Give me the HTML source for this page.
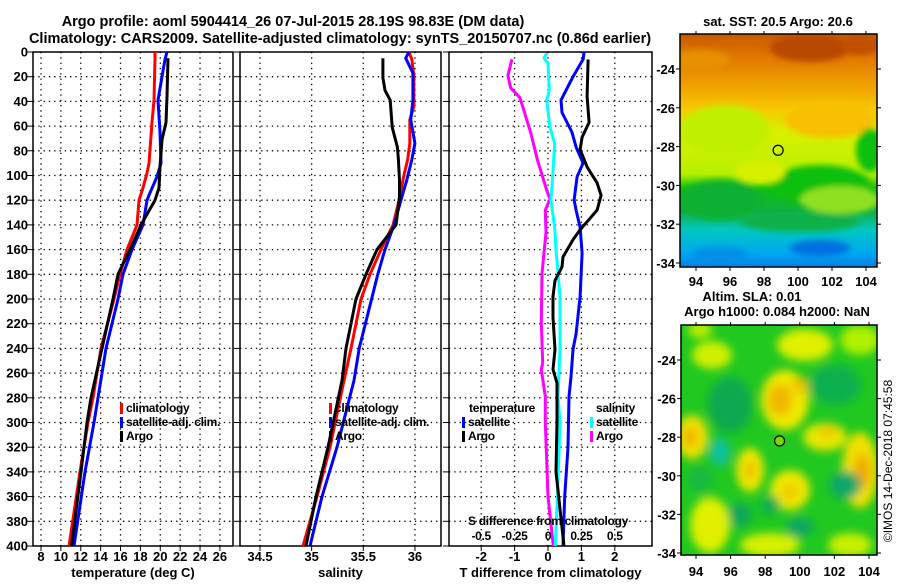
<!DOCTYPE html>
<html><head><meta charset="utf-8">
<style>
body{margin:0;background:#fff;width:900px;height:580px;overflow:hidden}
svg text{font-family:"Liberation Sans",sans-serif;font-weight:bold;font-size:13px;fill:#000}
svg text.leg{font-size:12px;letter-spacing:-0.3px}
</style></head>
<body>
<svg id="chart" width="900" height="580" viewBox="0 0 900 580" xmlns="http://www.w3.org/2000/svg">
<defs>
<filter id="blur5" x="-50%" y="-50%" width="200%" height="200%"><feGaussianBlur stdDeviation="4.5"/></filter>
<filter id="blur3" x="-50%" y="-50%" width="200%" height="200%"><feGaussianBlur stdDeviation="3"/></filter>
<clipPath id="m1clip"><rect x="680" y="34" width="197" height="233"/></clipPath>
<clipPath id="m2clip"><rect x="681" y="325" width="196" height="230"/></clipPath>
<linearGradient id="sstg" x1="0" y1="0" x2="0" y2="1">
<stop offset="0" stop-color="#c85a00"/><stop offset="0.1" stop-color="#e07800"/>
<stop offset="0.22" stop-color="#f0a000"/><stop offset="0.32" stop-color="#f8c800"/>
<stop offset="0.42" stop-color="#d8f000"/><stop offset="0.6" stop-color="#b8f000"/>
<stop offset="0.66" stop-color="#10c010"/><stop offset="0.76" stop-color="#10b040"/>
<stop offset="0.84" stop-color="#00c8c0"/><stop offset="0.94" stop-color="#00a8f0"/>
<stop offset="1" stop-color="#0080e8"/></linearGradient>
</defs>
<text x="293" y="26" text-anchor="middle" style="font-size:14.5px">Argo profile: aoml 5904414_26 07-Jul-2015 28.19S 98.83E (DM data)</text>
<text x="340" y="43" text-anchor="middle" style="font-size:14.5px">Climatology: CARS2009. Satellite-adjusted climatology: synTS_20150707.nc (0.86d earlier)</text>
<g id="panels"></g>
<g id="maps"></g>
<text transform="translate(892,461) rotate(-90)" text-anchor="middle" style="font-weight:normal;font-size:12px">©IMOS 14-Dec-2018 07:45:58</text>
</svg>
<script>
// ---------- data ----------
const depthTicks=[0,20,40,60,80,100,120,140,160,180,200,220,240,260,280,300,320,340,360,380,400];
const tTicks=[8,10,12,14,16,18,20,22,24,26];
const sTicks=[34.5,35,35.5,36];
const dTTicks=[-2,-1,0,1,2];
const dSTickLabels=["-0.5","-0.25","0","0.25","0.5"];
// temperature
const tClimDepth=[0,6,39,57,90,98,110,120,140,160,180,200,240,280,300,340,400];
const tClim=[19.47,19.47,19.37,19.17,18.87,18.66,18.26,17.86,17.66,16.65,15.95,15.34,14.04,13.23,12.73,11.92,10.82];
const tSatDepth=[0,6,20,39,65,90,101,114,120,140,160,180,200,240,280,300,340,400];
const tSat=[20.68,20.47,20.17,19.77,19.97,20.07,19.67,18.97,18.66,18.26,17.15,16.25,15.75,14.54,13.73,13.33,12.43,11.32];
const tArgoDepth=[5,36,57,71,93,110,120,140,160,180,200,240,280,300,340,400];
const tArgo=[20.78,20.68,20.58,20.17,19.97,19.87,19.47,18.06,16.95,15.75,15.24,14.14,13.03,12.63,12.02,11.07];
// salinity
const sClimDepth=[0,6,20,44,55,74,87,101,117,140,160,180,200,240,266,320,360,400];
const sClim=[35.94,35.97,35.99,35.99,35.95,35.95,35.93,35.89,35.855,35.788,35.671,35.565,35.478,35.381,35.313,35.178,35.052,34.916];
const sSatDepth=[0,5,17,39,55,74,87,104,117,140,160,180,200,240,266,320,360,400];
const sSat=[35.94,35.91,35.98,35.98,35.96,36.0,35.97,35.92,35.875,35.797,35.71,35.64,35.58,35.46,35.41,35.245,35.10,34.984];
const sArgoDepth=[5,21,31,39,61,77,87,104,117,140,160,180,200,240,266,320,360,400];
const sArgo=[35.69,35.69,35.71,35.76,35.78,35.83,35.84,35.85,35.85,35.817,35.633,35.526,35.429,35.333,35.294,35.158,35.042,34.945];
// differences
const dTSatDepth=[0,6,20,39,49,65,77,90,101,120,128,142,163,198,228,241,263,279,320,360,400];
const dTSat=[1.08,1.05,0.75,0.39,0.42,0.72,0.84,1.05,0.87,0.78,0.84,0.96,1.02,0.96,0.84,0.75,0.69,0.63,0.6,0.5,0.45];
const dTArgoDepth=[6,36,57,69,79,93,106,116,128,144,152,166,174,185,198,215,241,257,268,300,340,400];
const dTArgo=[1.2,1.17,1.23,1.02,0.96,1.17,1.47,1.59,1.47,0.96,0.75,0.45,0.42,0.21,0.15,0.15,0.21,0.15,0.27,0.27,0.24,0.48];
const dSSatDepth=[1,5,9,31,39,61,74,98,120,142,160,198,241,279,300,360,400];
const dSSat=[-0.01,-0.03,0,0.01,-0.01,0.015,0.05,0.037,0.022,0.05,0.06,0.09,0.09,0.075,0.09,0.07,0.055];
const dSArgoDepth=[6,19,29,37,44,65,87,112,119,128,146,179,219,252,257,279,300,360,400];
const dSArgo=[-0.27,-0.30,-0.28,-0.21,-0.19,-0.13,-0.08,-0.01,0.015,-0.02,-0.015,-0.045,-0.05,-0.04,-0.05,-0.02,-0.02,0,0.04];
// maps
const lonTicks=[94,96,98,100,102,104];
const latTicks=[-24,-26,-28,-30,-32,-34];
const argoLon=98.83, argoLat=-28.19;

// ---------- helpers ----------
const NS="http://www.w3.org/2000/svg";
function mk(tag,attrs,parent){const e=document.createElementNS(NS,tag);for(const k in attrs)e.setAttribute(k,attrs[k]);parent.appendChild(e);return e;}
const Y0=52,Y1=546;
const yD=d=>Y0+(d/400)*(Y1-Y0);
const panels=document.getElementById('panels');

function panel(name,x0,x1,xv,vticks,tickLabels,title){
  const g=mk('g',{},panels);
  
  
  depthTicks.forEach(d=>{
    if(d>0&&d<400){const l=mk('line',{x1:x0,x2:x1,y1:yD(d),y2:yD(d),stroke:'#000','stroke-width':1.3,'stroke-dasharray':'1.3 4'},g);
    }
    const t=mk('line',{x1:x0-6,x2:x0,y1:yD(d),y2:yD(d),stroke:'#000','stroke-width':1},g);
    
  });
  vticks.forEach((v,i)=>{
    const x=xv(v);
    const l=mk('line',{x1:x,x2:x,y1:Y0,y2:Y1,stroke:'#000','stroke-width':1.3,'stroke-dasharray':'1.3 4'},g);
    
    const tk=mk('line',{x1:x,x2:x,y1:Y1,y2:Y1+5,stroke:'#000'},g);
    
    const t=mk('text',{x:x,y:561,'text-anchor':'middle'},g);t.textContent=tickLabels[i];
    
  });
  const r=mk('rect',{x:x0,y:Y0,width:x1-x0,height:Y1-Y0,fill:'none',stroke:'#000','stroke-width':1.5},g);
  
  const tt=mk('text',{x:(x0+x1)/2,y:577,'text-anchor':'middle'},g);tt.textContent=title;
  
  return g;
}
function series(g,name,depths,vals,xv,color){
  const pts=depths.map((d,i)=>xv(vals[i]).toFixed(1)+','+yD(d).toFixed(1)).join(' ');
  const p=mk('polyline',{points:pts,fill:'none',stroke:color,'stroke-width':3,'stroke-linejoin':'round'},g);
  
  
}
function legend(g,x,y,color,label,name){
  const b=mk('rect',{x:x,y:y-9,width:3,height:11,fill:color},g);
  
  const t=mk('text',{x:x+6,y:y,'class':'leg'},g);t.textContent=label;
  
}

// depth labels
depthTicks.forEach(d=>{const t=mk('text',{x:28,y:yD(d)+4.5,'text-anchor':'end'},panels);t.textContent=d;
});

// Panel 1 temperature
const xT=v=>41+(v-8)*9.94;
const p1=panel('temperature-panel',33,233,xT,tTicks,tTicks.map(String),'temperature (deg C)');
series(p1,'temp-climatology-line',tClimDepth,tClim,xT,'#ff0000');
series(p1,'temp-satellite-line',tSatDepth,tSat,xT,'#0000ff');
series(p1,'temp-argo-line',tArgoDepth,tArgo,xT,'#000000');
legend(p1,120,412,'#ff0000','climatology','legend-climatology');
legend(p1,120,426,'#0000ff','satellite-adj. clim.','legend-satellite');
legend(p1,120,440,'#000000','Argo','legend-argo');

// Panel 2 salinity
const xS=v=>260+(v-34.5)*103.3;
const p2=panel('salinity-panel',240,441,xS,sTicks,sTicks.map(String),'salinity');
series(p2,'sal-climatology-line',sClimDepth,sClim,xS,'#ff0000');
series(p2,'sal-satellite-line',sSatDepth,sSat,xS,'#0000ff');
series(p2,'sal-argo-line',sArgoDepth,sArgo,xS,'#000000');
legend(p2,329,412,'#ff0000','climatology','legend-climatology');
legend(p2,329,426,'#0000ff','satellite-adj. clim.','legend-satellite');
legend(p2,329,440,'#000000','Argo','legend-argo');

// Panel 3 differences
const xdT=v=>548+v*33.4;
const xdS=v=>548+v*4*33.4;
const p3=panel('difference-panel',449,652,xdT,dTTicks,dTTicks.map(String),'T difference from climatology');
series(p3,'sal-argo-diff-line',dSArgoDepth,dSArgo,xdS,'#ff00ff');
series(p3,'sal-satellite-diff-line',dSSatDepth,dSSat,xdS,'#00ffff');
series(p3,'temp-satellite-diff-line',dTSatDepth,dTSat,xdT,'#0000ff');
series(p3,'temp-argo-diff-line',dTArgoDepth,dTArgo,xdT,'#000000');
{const t=mk('text',{x:469,y:412,'class':'leg'},p3);t.textContent='temperature';
const s=mk('text',{x:596,y:412,'class':'leg'},p3);s.textContent='salinity';}
legend(p3,462,426,'#0000ff','satellite','legend-temp-satellite');
legend(p3,462,440,'#000000','Argo','legend-temp-argo');
legend(p3,590,426,'#00ffff','satellite','legend-sal-satellite');
legend(p3,590,440,'#ff00ff','Argo','legend-sal-argo');
{const t=mk('text',{x:548,y:525,'text-anchor':'middle','class':'leg'},p3);t.textContent='S difference from climatology';

dTTicks.forEach((v,i)=>{const l=mk('text',{x:xdS(v/4),y:540,'text-anchor':'middle','class':'leg'},p3);l.textContent=dSTickLabels[i];
});}

// ---------- maps ----------
const maps=document.getElementById('maps');
function mapAxes(g,x0,x1,y0,y1,lonX,latY,labelY){
  latTicks.forEach(v=>{const y=latY(v);
    mk('line',{x1:x0-4,x2:x0,y1:y,y2:y,stroke:'#000'},g);mk('line',{x1:x1,x2:x1+4,y1:y,y2:y,stroke:'#000'},g);
    const t=mk('text',{x:x0-5,y:y+5},g);t.setAttribute('text-anchor','end');t.textContent=v;
    });
  lonTicks.forEach(v=>{const x=lonX(v);
    mk('line',{x1:x,x2:x,y1:y0-3,y2:y0,stroke:'#000'},g);mk('line',{x1:x,x2:x,y1:y1,y2:y1+4,stroke:'#000'},g);
    const t=mk('text',{x:x,y:labelY,'text-anchor':'middle'},g);t.textContent=v;
    });
  const r=mk('rect',{x:x0,y:y0,width:x1-x0,height:y1-y0,fill:'none',stroke:'#000','stroke-width':1.5},g);
  
}
// Map 1 SST
const m1=mk('g',{},maps);


const lon1=v=>696+(v-94)*17, lat1=v=>69+(-24-v)*19.4;
{const c=mk('g',{'clip-path':'url(#m1clip)'},m1);
mk('rect',{x:680,y:34,width:197,height:233,fill:'url(#sstg)'},c);
const b=mk('g',{filter:'url(#blur3)'},c);
[[810,48,40,14,'#b84800'],[860,45,20,10,'#c05000'],[700,60,30,10,'#e89000'],[830,120,45,18,'#f8c000'],
 [725,130,45,25,'#c0f000'],[870,150,14,22,'#10c010'],[820,185,50,20,'#10c010'],[720,200,40,20,'#10b030'],
 [760,172,25,12,'#d8f000'],[840,200,40,14,'#90e020'],[800,222,60,10,'#10b048'],[820,248,30,8,'#0070e0'],[720,255,30,8,'#0090e8']]
.forEach(e=>mk('ellipse',{cx:e[0],cy:e[1],rx:e[2],ry:e[3],fill:e[4]},b));}
mapAxes(m1,680,877,34,267,lon1,lat1,286);
{const c=mk('circle',{cx:lon1(argoLon),cy:lat1(argoLat),r:5,fill:'none',stroke:'#000','stroke-width':1.2},m1);

const t=mk('text',{x:778,y:26,'text-anchor':'middle'},m1);t.textContent='sat. SST: 20.5 Argo: 20.6';
}
// Map 2 SLA
const m2=mk('g',{},maps);


const lon2=v=>696+(v-94)*17.3, lat2=v=>360+(-24-v)*19.3;
{const c=mk('g',{'clip-path':'url(#m2clip)'},m2);
mk('rect',{x:681,y:325,width:196,height:230,fill:'#20c820'},c);
const b=mk('g',{filter:'url(#blur5)'},c);
[[700,330,12,8,'#c0f000'],[805,345,28,16,'#e0f000'],[860,340,20,15,'#b0f000'],[712,355,20,14,'#d0f000'],
 [785,400,24,30,'#f0e800'],[780,400,12,16,'#f0b800'],[800,385,8,8,'#f0c000'],
 [692,437,16,22,'#f0e000'],[690,437,6,10,'#f0b000'],[825,437,22,14,'#e8e800'],[828,432,10,6,'#f0c800'],
 [860,470,18,38,'#f0e000'],[862,472,8,18,'#f0a800'],[750,470,14,22,'#f0e800'],[750,470,6,10,'#f0c000'],
 [790,490,20,20,'#f0e800'],[790,492,8,8,'#f0c800'],[710,525,20,28,'#e0f000'],[770,545,30,12,'#d8f000'],[850,545,22,12,'#c8f000'],
 [730,405,22,28,'#10a850'],[720,452,10,14,'#10c0a0'],[835,385,26,20,'#10b050'],[845,485,16,14,'#10a868'],
 [770,505,10,10,'#10b050'],[740,515,12,12,'#10a858'],[800,527,14,10,'#10a860'],[700,480,12,14,'#18b840']]
.forEach(e=>mk('ellipse',{cx:e[0],cy:e[1],rx:e[2],ry:e[3],fill:e[4]},b));}
mapAxes(m2,681,877,325,555,lon2,lat2,576);
{const c=mk('circle',{cx:lon2(argoLon),cy:lat2(argoLat),r:5,fill:'#70e000',stroke:'#000','stroke-width':1.2},m2);

const t=mk('text',{x:752,y:301,'text-anchor':'middle'},m2);t.textContent='Altim. SLA: 0.01';

const t2=mk('text',{x:777,y:316,'text-anchor':'middle'},m2);t2.textContent='Argo h1000: 0.084 h2000: NaN';
}
</script>
</body></html>
